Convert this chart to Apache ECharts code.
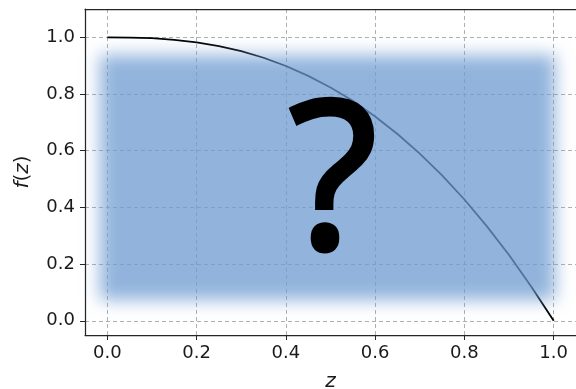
<!DOCTYPE html>
<html><head><meta charset="utf-8">
<script src="https://cdn.jsdelivr.net/npm/echarts@6/dist/echarts.min.js"></script>
<style>html,body{margin:0;padding:0;background:#fff;overflow:hidden}#c{width:576px;height:389px}</style>
</head><body><div id="c"></div>
<script>
const zValues = [0.0,0.05,0.1,0.15,0.2,0.25,0.3,0.35,0.4,0.45,0.5,0.55,0.6,0.65,0.7,0.75,0.8,0.85,0.9,0.95,1.0];
const fValues = [1.0,0.999,0.997,0.991,0.982,0.969,0.951,0.928,0.899,0.864,0.823,0.776,0.721,0.659,0.590,0.513,0.428,0.334,0.232,0.120,0.0];
const xTicks = [0.0,0.2,0.4,0.6,0.8,1.0];
const yTicks = [0.0,0.2,0.4,0.6,0.8,1.0];
const xName = 'z';
const yName = 'f(z)';
const overlayText = '?';

const chart = echarts.init(document.getElementById('c'), null, {renderer:'canvas', width:576, height:389});
const font = 'DejaVu Sans';
const gridLine = {show:true, lineStyle:{color:'#b0b0b0', type:[4,3], width:1}};
const axisLine = {show:true, onZero:false, lineStyle:{color:'#262626', width:1.25}};
chart.setOption({
  animation:false,
  backgroundColor:'#fff',
  grid:{left:85, right:0, top:9, bottom:54, containLabel:false, outerBoundsMode:'none'},
  xAxis:[{
    type:'value', min:-0.05, max:1.05,
    axisLine:axisLine,
    axisTick:{show:true, customValues:xTicks, length:5, lineStyle:{color:'#262626', width:1}},
    axisLabel:{customValues:xTicks, formatter:v=>v.toFixed(1), fontFamily:font, fontSize:18, color:'#1a1a1a', margin:9},
    splitLine:gridLine,
    name:xName, nameLocation:'middle', nameGap:37,
    nameTextStyle:{fontFamily:font, fontStyle:'italic', fontSize:20, color:'#1a1a1a'}
  },{
    type:'value', min:-0.05, max:1.05, position:'top',
    axisLine:axisLine, axisTick:{show:false}, axisLabel:{show:false}, splitLine:{show:false}
  }],
  yAxis:{
    type:'value', min:-0.05, max:1.1,
    axisLine:axisLine,
    axisTick:{show:true, customValues:yTicks, length:5, lineStyle:{color:'#262626', width:1}},
    axisLabel:{customValues:yTicks, formatter:v=>v.toFixed(1), fontFamily:font, fontSize:18, color:'#1a1a1a', margin:10},
    splitLine:gridLine,
    name:'{i|f}{n|(}{i|z}{n|)}', nameLocation:'middle', nameGap:52,
    nameTextStyle:{fontFamily:font, fontSize:20, color:'#1a1a1a',
      rich:{i:{fontFamily:font, fontStyle:'italic', fontSize:20, color:'#1a1a1a'}, n:{fontFamily:font, fontSize:20, color:'#1a1a1a'}}}
  },
  series:[{
    type:'line', xAxisIndex:0, data:zValues.map((z,i)=>[z,fValues[i]]),
    showSymbol:false, lineStyle:{color:'#000', width:1.8}, z:2
  }],
  graphic:[{
    type:'rect', z:100, silent:true,
    shape:{x:100-2000, y:55, width:455, height:245},
    style:{fill:'rgba(110,155,208,1)', shadowBlur:16, shadowColor:'rgba(110,155,208,0.75)', shadowOffsetX:2000, shadowOffsetY:0}
  },{
    type:'text', z:101, silent:true, x:333, y:190,
    style:{text:overlayText, fontFamily:'Open Sans', fontWeight:'normal', fontSize:205, fill:'#000', stroke:'#000', lineWidth:5, lineJoin:'round', align:'center', verticalAlign:'middle'}
  }]
});
</script></body></html>
